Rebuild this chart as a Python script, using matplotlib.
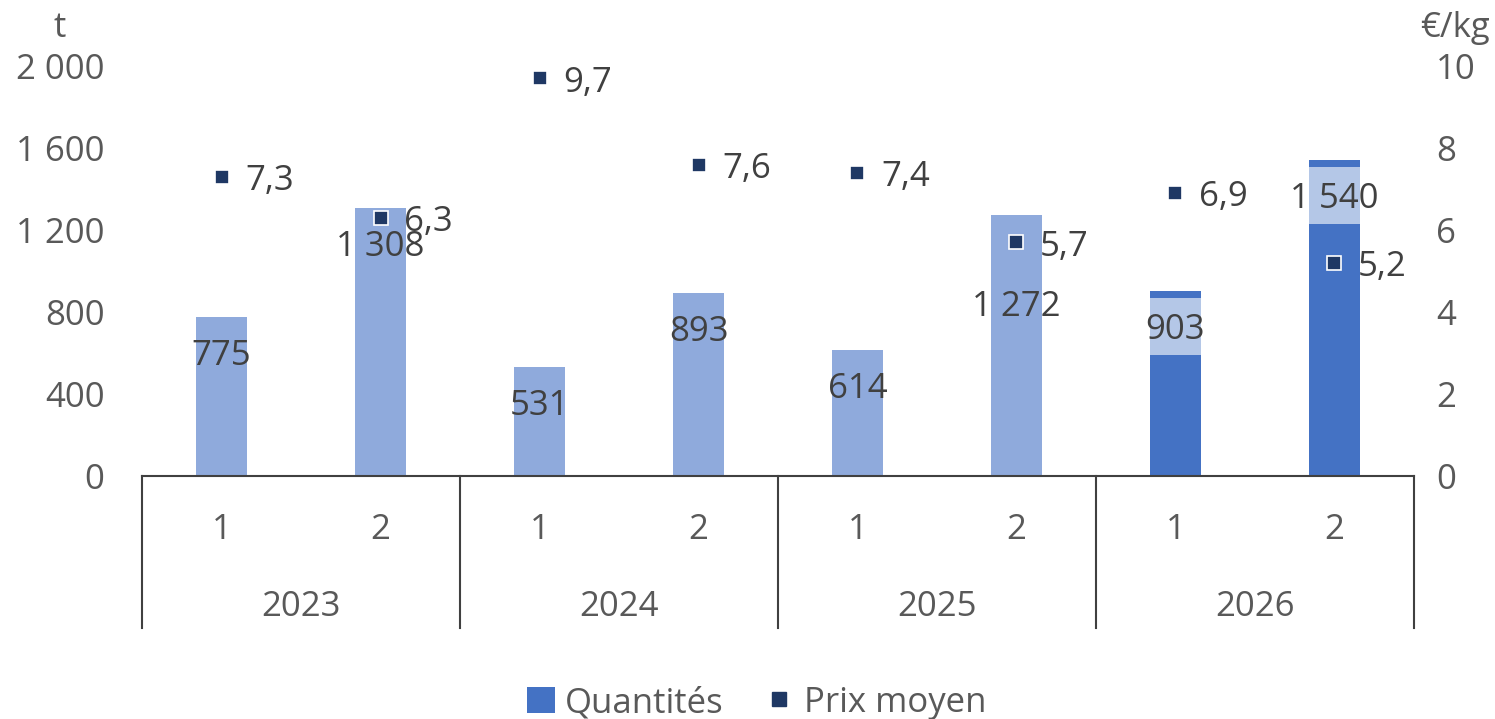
import matplotlib
matplotlib.use("Agg")
import matplotlib.pyplot as plt
from matplotlib.patches import Patch
from matplotlib.lines import Line2D

plt.rcParams['font.family'] = ['Open Sans', 'DejaVu Sans']

# data
years = ["2023", "2024", "2025", "2026"]
halves = ["1", "2", "1", "2", "1", "2", "1", "2"]
quantites = [775, 1308, 531, 893, 614, 1272, 903, 1540]
# 2026 bars are split: realised base, light middle band, dark cap on top
base_2026 = [590, 1229]
middle_2026 = [278, 278]
prix = [7.3, 6.3, 9.7, 7.6, 7.4, 5.7, 6.9, 5.2]

c_light = "#8FAADC"
c_dark = "#4472C4"
c_band = "#B4C7E7"
c_navy = "#1F3864"
c_txt = "#595959"
c_lab = "#404040"
fs = 25

def fmt(v):
    return "{:,}".format(v).replace(",", " ")

fig = plt.figure(figsize=(14.95, 7.19), dpi=100)
ax = fig.add_axes([0.095, 0.338, 0.8508, 0.570])
ax2 = ax.twinx()

x = list(range(len(quantites)))
w = 0.315

# plain bars 2023-2025
ax.bar(x[:6], quantites[:6], width=w, color=c_light, zorder=2)
# 2026 stacked bars
x26 = x[6:]
cap = [t - b - m for t, b, m in zip(quantites[6:], base_2026, middle_2026)]
ax.bar(x26, base_2026, width=w, color=c_dark, zorder=2)
ax.bar(x26, middle_2026, width=w, bottom=base_2026, color=c_band, zorder=2)
cap_bottom = [b + m for b, m in zip(base_2026, middle_2026)]
ax.bar(x26, cap, width=w, bottom=cap_bottom, color=c_dark, zorder=2)

# bar value labels (sit a bit below the top, the 2025-2 one lower)
label_drop = [190] * 8
label_drop[5] = 448
for xi, q, d in zip(x, quantites, label_drop):
    ax.text(xi, q - d, fmt(q), ha="center", va="center", fontsize=fs,
            color=c_lab, zorder=5)

ax.set_xlim(-0.5, 7.5)
ax.set_ylim(0, 2000)
ax.set_yticks([0, 400, 800, 1200, 1600, 2000])
ax.set_yticklabels([fmt(v) for v in [0, 400, 800, 1200, 1600, 2000]])
ax.tick_params(axis="y", length=0, pad=27, labelsize=fs, labelcolor=c_txt)
ax.set_xticks([])
for s in ["top", "left", "right"]:
    ax.spines[s].set_visible(False)
ax.spines["bottom"].set_color("#404040")
ax.spines["bottom"].set_linewidth(1.5)

# price markers
ax2.plot(x, prix, linestyle="none", marker="s", markersize=10.5,
         markerfacecolor=c_navy, markeredgecolor="white", markeredgewidth=1.2,
         zorder=6)
for xi, p in zip(x, prix):
    ax2.annotate(("%.1f" % p).replace(".", ","), (xi, p), xytext=(17, -3),
                 textcoords="offset points", ha="left", va="center",
                 fontsize=fs, color=c_lab, zorder=7)
ax2.set_ylim(0, 10)
ax2.set_yticks([0, 2, 4, 6, 8, 10])
ax2.tick_params(axis="y", length=0, pad=16, labelsize=fs, labelcolor=c_txt)
for s in ["top", "left", "right", "bottom"]:
    ax2.spines[s].set_visible(False)

# category axis: halves and years
trans = ax.get_xaxis_transform()
for xs in [-0.5, 1.5, 3.5, 5.5, 7.5]:
    ax.plot([xs, xs], [0, -0.371], transform=trans, color="#404040",
            linewidth=1.5, clip_on=False)
for xi, h in zip(x, halves):
    ax.text(xi, -0.132, h, transform=trans, ha="center", va="center",
            fontsize=fs, color=c_txt)
for i, y in enumerate(years):
    ax.text(2 * i + 0.5, -0.32, y, transform=trans, ha="center", va="center",
            fontsize=fs, color=c_txt)

# units
fig.text(60 / 1495, 1 - 28 / 719, "t", ha="center", va="center",
         fontsize=fs, color=c_txt)
fig.text(1455 / 1495, 1 - 28 / 719, "€/kg", ha="center", va="center",
         fontsize=fs, color=c_txt)

# legend
handles = [Patch(facecolor=c_dark, edgecolor="none", label="Quantités"),
           Line2D([], [], linestyle="none", marker="s", markersize=10,
                  markerfacecolor=c_navy, markeredgecolor=c_navy,
                  label="Prix moyen")]
fig.legend(handles=handles, loc="center", bbox_to_anchor=(0.506, 1 - 703 / 719),
           ncol=2, frameon=False, fontsize=fs, labelcolor=c_txt,
           handlelength=0.8, handleheight=0.8, handletextpad=0.3,
           columnspacing=1.2)

fig.savefig("out.png", dpi=100)
